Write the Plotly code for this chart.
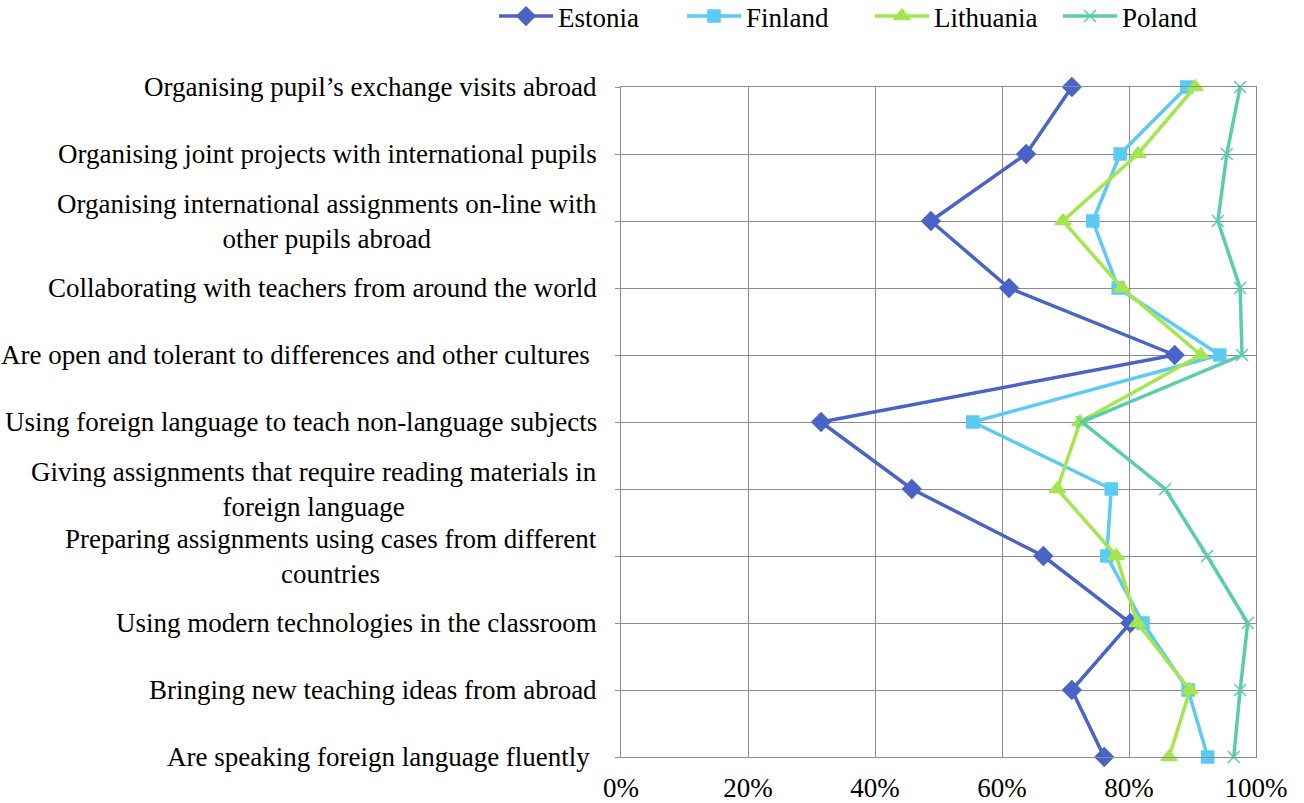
import plotly.graph_objects as go

categories = [
    "Organising pupil\u2019s exchange visits abroad",
    "Organising joint projects with international pupils",
    "Organising international assignments on-line with<br>other pupils abroad",
    "Collaborating with teachers from around the world",
    "Are open and tolerant to differences and other cultures\u00a0",
    "Using foreign language to teach non-language subjects",
    "Giving assignments that require reading materials in<br>foreign language",
    "Preparing assignments using cases from different<br>countries",
    "Using modern technologies in the classroom",
    "Bringing new teaching ideas from abroad",
    "Are speaking foreign language fluently\u00a0",
]

estonia = [71.0, 63.8, 48.8, 61.1, 87.2, 31.5, 45.8, 66.5, 80.2, 71.0, 76.1]
finland = [89.1, 78.6, 74.3, 78.3, 94.3, 55.4, 77.2, 76.5, 82.2, 89.3, 92.4]
lithuania = [90.4, 81.4, 69.6, 78.9, 91.3, 72.3, 68.7, 78.0, 81.3, 89.6, 86.3]
poland = [97.5, 95.4, 94.0, 97.5, 97.8, 72.6, 85.7, 92.3, 98.7, 97.5, 96.5]

x_ticks = [0, 20, 40, 60, 80, 100]
x_tick_labels = ["0%", "20%", "40%", "60%", "80%", "100%"]

series = [
    ("Estonia", estonia, "#4A63C7", "diamond", 14),
    ("Finland", finland, "#5BCBF4", "square", 12),
    ("Lithuania", lithuania, "#A5E64F", "triangle-up", 14),
    ("Poland", poland, "#5ACDAE", "x-thin", 12),
]

FONT = "Liberation Serif, Times New Roman, serif"
FS = 27
GRID = "#8C8C8C"

fig = go.Figure()
for name, vals, color, sym, size in series:
    fig.add_trace(go.Scatter(
        x=vals, y=categories, name=name, mode="lines+markers",
        line=dict(color=color, width=3.5),
        marker=dict(symbol=sym, size=size, color=color,
                    line=dict(color=color, width=1.5)),
        cliponaxis=False,
    ))

for cat in categories:
    fig.add_annotation(
        x=0, xref="paper", y=cat, yref="y",
        text=cat, showarrow=False, xanchor="right", yanchor="middle",
        align="center", xshift=-22,
        font=dict(family=FONT, size=FS, color="#000000"),
    )

fig.update_layout(
    width=1304, height=803,
    margin=dict(l=621, r=48, t=87, b=46, autoexpand=False),
    paper_bgcolor="white", plot_bgcolor="white",
    font=dict(family=FONT, size=FS, color="#000000"),
    showlegend=True,
    legend=dict(orientation="h", xref="paper", yref="paper",
                x=(494 - 621) / 635, xanchor="left", y=1 + 95 / 670, yanchor="top",
                font=dict(family=FONT, size=FS),
                itemwidth=54, entrywidth=119, entrywidthmode="pixels",
                bgcolor="rgba(0,0,0,0)"),
    xaxis=dict(range=[0, 100], tickmode="array", tickvals=x_ticks,
               ticktext=x_tick_labels, automargin=False,
               showgrid=True, gridcolor=GRID, gridwidth=1,
               zeroline=False, showline=True, linecolor=GRID, linewidth=1,
               mirror=True, ticks="",
               ticklabelstandoff=7,
               tickfont=dict(family=FONT, size=FS)),
    yaxis=dict(type="category", categoryorder="array", categoryarray=categories,
               range=[10, 0], showticklabels=False, showgrid=True, automargin=False,
               gridcolor=GRID, gridwidth=1, zeroline=False,
               showline=True, linecolor=GRID, linewidth=1, mirror=True,
               ticks="outside", ticklen=5, tickcolor=GRID),
)

fig.write_html("out.html", config={"displayModeBar": False},
               post_script="document.body.style.margin='0';")
